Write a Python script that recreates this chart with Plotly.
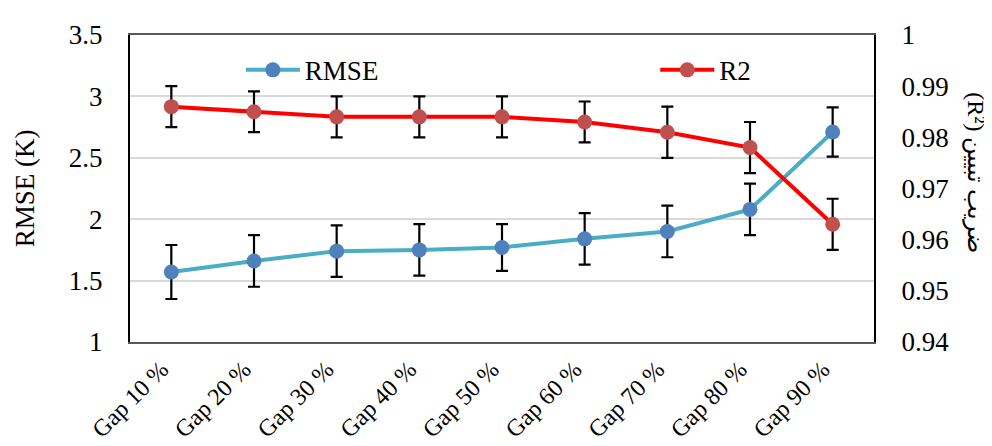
import plotly.graph_objects as go

categories = ["Gap 10 %", "Gap 20 %", "Gap 30 %", "Gap 40 %", "Gap 50 %",
              "Gap 60 %", "Gap 70 %", "Gap 80 %", "Gap 90 %"]
rmse = [1.57, 1.66, 1.74, 1.75, 1.77, 1.84, 1.90, 2.08, 2.71]
rmse_err = [0.22, 0.21, 0.21, 0.21, 0.19, 0.21, 0.21, 0.21, 0.20]
r2 = [0.986, 0.985, 0.984, 0.984, 0.984, 0.983, 0.981, 0.978, 0.963]
r2_err = [0.004, 0.004, 0.004, 0.004, 0.004, 0.004, 0.005, 0.005, 0.005]

left_ticks = [1, 1.5, 2, 2.5, 3, 3.5]
left_labels = ["1", "1.5", "2", "2.5", "3", "3.5"]
right_ticks = [0.94, 0.95, 0.96, 0.97, 0.98, 0.99, 1.0]
right_labels = ["0.94", "0.95", "0.96", "0.97", "0.98", "0.99", "1"]

FONT = "Liberation Serif"

fig = go.Figure()
fig.add_trace(go.Scatter(
    x=categories, y=rmse, name="RMSE", mode="lines+markers",
    line=dict(color="#4BACC6", width=4),
    marker=dict(color="#4F81BD", size=15),
    error_y=dict(type="data", array=rmse_err, color="black", thickness=2.2, width=6),
    yaxis="y", legend="legend",
))
fig.add_trace(go.Scatter(
    x=categories, y=r2, name="R2", mode="lines+markers",
    line=dict(color="#FF0000", width=4),
    marker=dict(color="#C0504D", size=15),
    error_y=dict(type="data", array=r2_err, color="black", thickness=2.2, width=6),
    yaxis="y2", legend="legend2",
))

leg_common = dict(orientation="h", yanchor="middle", xanchor="left", itemwidth=54,
                  font=dict(family=FONT, size=27), bgcolor="rgba(0,0,0,0)")

fig.update_layout(
    width=992, height=446,
    margin=dict(l=122, r=126, t=23, b=99),
    paper_bgcolor="white", plot_bgcolor="white",
    font=dict(family=FONT, color="black", size=27),
    showlegend=True,
    legend=dict(x=0.149, y=0.885, **leg_common),
    legend2=dict(x=0.706, y=0.885, **leg_common),
    xaxis=dict(range=[-0.5, 8.5], tickangle=-45, tickfont=dict(size=24),
               showgrid=False, showline=True, linecolor="#595959", linewidth=1.5,
               mirror=True, ticks="", ticklabelstandoff=2, ticklabelshift=-10),
    yaxis=dict(range=[1, 3.5], tickvals=left_ticks, ticktext=left_labels,
               tickfont=dict(size=27),
               showgrid=True, gridcolor="#D9D9D9", gridwidth=1.5,
               showline=True, linecolor="black", linewidth=2, ticks="",
               ticklabelstandoff=20, zeroline=False,
               title=dict(text="RMSE (K)", font=dict(size=27), standoff=26)),
    yaxis2=dict(range=[0.94, 1.0], tickvals=right_ticks, ticktext=right_labels,
                tickfont=dict(size=27),
                overlaying="y", side="right", showgrid=False,
                showline=True, linecolor="black", linewidth=2, ticks="",
                ticklabelstandoff=20, zeroline=False),
    annotations=[dict(text="(R²) ضریب تبیین", textangle=90, xref="paper", yref="paper",
                      x=1.137, y=0.55, xanchor="center", yanchor="middle",
                      showarrow=False, font=dict(family=FONT, size=24))],
)

fig.write_html("out.html")
